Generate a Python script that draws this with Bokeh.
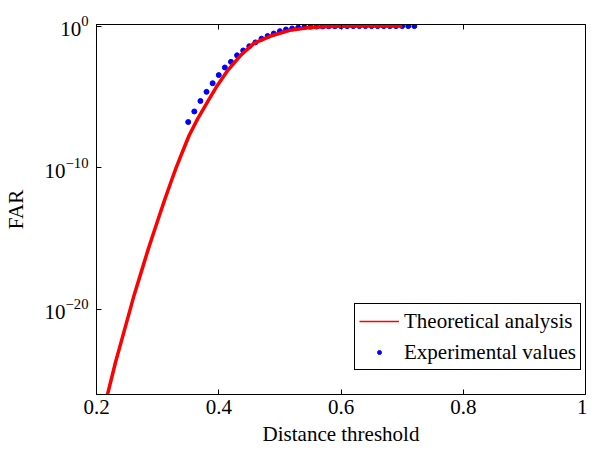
from bokeh.plotting import figure
from bokeh.models import (LinearAxis, FixedTicker, LogTickFormatter, PrintfTickFormatter,
                          CustomJSTickFormatter, Legend, LegendItem, Range1d)
from bokeh.embed import file_html
from bokeh.resources import INLINE

# Theoretical analysis curve
theo_x = [0.215, 0.218, 0.231, 0.2457, 0.2605, 0.2765, 0.2848, 0.2935, 0.3022, 0.3112,
          0.3205, 0.330, 0.3405, 0.3515, 0.365, 0.3835, 0.396, 0.414, 0.437, 0.458, 0.485,
          0.516, 0.548, 0.580, 0.62, 0.66, 0.70]
theo_far = [3.2e-27, 1.0e-26, 1.8e-24, 3.5e-22, 7.2e-20, 1.3e-17, 1.9e-16, 2.6e-15, 3.5e-14,
            5.0e-13, 6.9e-12, 9.5e-11, 1.3e-9, 1.9e-8, 2.6e-7, 6.2e-6, 5.0e-5, 6.9e-4,
            9.8e-3, 6.3e-2, 0.20, 0.50, 0.79, 0.93, 1.0, 1.0, 1.0]

# Experimental values
exp_x = [0.35, 0.36, 0.37, 0.38, 0.39, 0.40, 0.41, 0.42, 0.43, 0.44, 0.45, 0.46, 0.47,
         0.48, 0.49, 0.50, 0.51, 0.52, 0.53, 0.54, 0.55, 0.56, 0.57, 0.58, 0.59, 0.60,
         0.61, 0.62, 0.63, 0.64, 0.65, 0.66, 0.67, 0.68, 0.69, 0.70, 0.71, 0.72]
exp_far = [1.7e-7, 9.5e-7, 5.2e-6, 2.3e-5, 9.3e-5, 3.5e-4, 1.2e-3, 3.0e-3, 8.7e-3, 1.9e-2,
           3.8e-2, 7.1e-2, 0.13, 0.20, 0.30, 0.44, 0.58, 0.68, 0.79, 0.85, 0.90, 0.93, 0.95,
           0.97, 0.98, 0.99, 1.0, 1.0, 1.0, 1.0, 1.0, 1.0, 1.0, 1.0, 1.0, 1.0, 1.0, 1.0]

x_ticks = [0.2, 0.4, 0.6, 0.8, 1.0]
y_ticks = [1e-20, 1e-10, 1.0]

FONT = "Liberation Serif"
FS = "21px"

p = figure(width=587, height=453, y_axis_type="log",
           x_range=Range1d(0.2, 1.0), y_range=Range1d(1e-26, 1.3),
           output_backend="svg", toolbar_location=None,
           min_border_left=88, min_border_top=24, min_border_right=2, min_border_bottom=59)
p.grid.visible = False
p.background_fill_color = "white"
p.border_fill_color = "white"
p.outline_line_color = "black"
p.outline_line_width = 1

xa = p.below[0]
xa.ticker = FixedTicker(ticks=x_ticks)
xa.formatter = PrintfTickFormatter(format="%g")
xa.axis_label = "Distance threshold"

ya = p.left[0]
ya.ticker = FixedTicker(ticks=y_ticks)
ya.formatter = LogTickFormatter()
ya.axis_label = "FAR"

for ax in (xa, ya):
    ax.major_tick_in = 5
    ax.major_tick_out = 0
    ax.minor_tick_in = 0
    ax.minor_tick_out = 0
    ax.axis_line_color = "black"
    ax.major_tick_line_color = "black"
    ax.major_label_text_font = FONT
    ax.major_label_text_font_size = FS
    ax.major_label_text_color = "black"
    ax.axis_label_text_font = FONT
    ax.axis_label_text_font_size = FS
    ax.axis_label_text_font_style = "normal"
    ax.axis_label_text_color = "black"
xa.major_label_standoff = 5
xa.axis_label_standoff = 5
ya.major_label_standoff = 8
ya.axis_label_standoff = 14

top = LinearAxis(ticker=FixedTicker(ticks=x_ticks),
                 formatter=CustomJSTickFormatter(code="return ''"),
                 major_label_text_font_size="10px",
                 major_tick_in=5, major_tick_out=0, minor_tick_in=0, minor_tick_out=0,
                 major_label_standoff=0, axis_line_color="black")
p.add_layout(top, "above")

blue = p.scatter(exp_x, exp_far, size=5, color="blue", marker="circle")
red_thick = p.line(theo_x, theo_far, line_width=3.5, color="red")
red_thin = p.line(theo_x, theo_far, line_width=1.5, color="red")

legend = Legend(items=[LegendItem(label="Theoretical analysis", renderers=[red_thin]),
                       LegendItem(label="Experimental values", renderers=[blue])],
                location=(258, 24), padding=4, spacing=5, glyph_width=40, glyph_height=10,
                label_height=26, label_standoff=5, margin=0,
                label_text_font=FONT, label_text_font_size=FS, label_text_color="black",
                border_line_color="black", border_line_width=1, border_line_alpha=1.0,
                background_fill_color="white", background_fill_alpha=1.0)
p.add_layout(legend)

open("out.html", "w").write(file_html(p, INLINE))
